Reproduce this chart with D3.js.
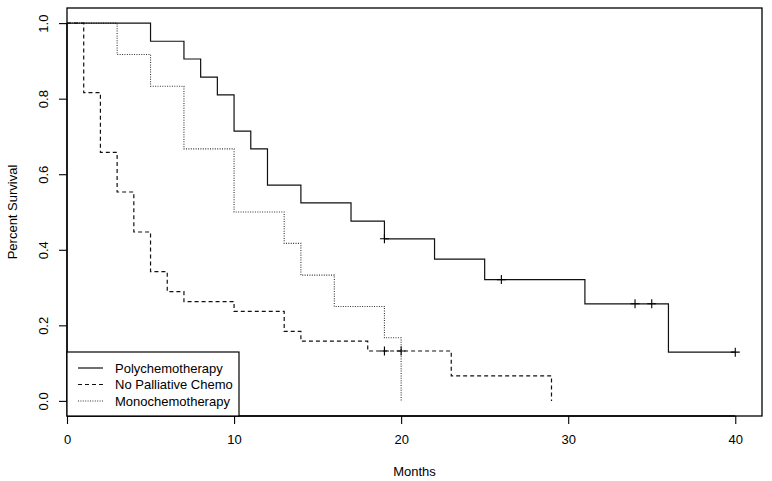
<!DOCTYPE html>
<html>
<head>
<meta charset="utf-8">
<script src="https://cdn.jsdelivr.net/npm/d3@7"></script>
<style>
  body { margin: 0; background: #fff; }
  svg { display: block; }
  text { font-family: "Liberation Sans", Arial, Helvetica, sans-serif; fill: #000; }
</style>
</head>
<body>
<svg id="chart" width="772" height="481"></svg>
<script>
// ---- data ----
const seriesNames = ["Polychemotherapy", "No Palliative Chemo", "Monochemotherapy"];

const polyTimes = [0, 5, 7, 8, 9, 10, 11, 12, 14, 17, 19, 22, 25, 31, 36, 40];
const polySurv  = [1, 0.952, 0.905, 0.857, 0.810, 0.714, 0.667, 0.571, 0.524, 0.476, 0.429, 0.375, 0.321, 0.257, 0.129, 0.129];
const polyCensor = [19, 26, 34, 35, 40];

const noChemoTimes = [0, 1, 2, 3, 4, 5, 6, 7, 10, 13, 14, 18, 23, 29];
const noChemoSurv  = [1, 0.816, 0.658, 0.553, 0.447, 0.342, 0.289, 0.263, 0.237, 0.184, 0.158, 0.132, 0.066, 0];
const noChemoCensor = [19, 20];

const monoTimes = [0, 3, 5, 7, 10, 13, 14, 16, 19, 20];
const monoSurv  = [1, 0.917, 0.833, 0.667, 0.5, 0.417, 0.333, 0.25, 0.167, 0];
const monoCensor = [];

const xTicks = [0, 10, 20, 30, 40];
const yTicks = [0, 0.2, 0.4, 0.6, 0.8, 1.0];

// ---- layout ----
const svg = d3.select("#chart");
const L = 67, R = 762, T = 8, B = 416;
const x = d3.scaleLinear().domain([0, 41.6]).range([L, R]);
const y = d3.scaleLinear().domain([-0.04, 1.04]).range([B, T]);

const styles = [
  { stroke: "#111", dash: null, width: 1.2 },
  { stroke: "#111", dash: "4,3", width: 1.2 },
  { stroke: "#333", dash: "1,1.4", width: 1.1 }
];

const series = [
  { times: polyTimes, surv: polySurv, censor: polyCensor },
  { times: noChemoTimes, surv: noChemoSurv, censor: noChemoCensor },
  { times: monoTimes, surv: monoSurv, censor: monoCensor }
];

const line = d3.line().x(d => x(d[0])).y(d => y(d[1])).curve(d3.curveStepAfter);

[2, 1, 0].forEach(i => {
  const s = series[i], st = styles[i];
  const pts = s.times.map((t, j) => [t, s.surv[j]]);
  svg.append("path")
    .attr("d", line(pts))
    .attr("fill", "none")
    .attr("stroke", st.stroke)
    .attr("stroke-width", st.width)
    .attr("stroke-dasharray", st.dash);
  s.censor.forEach(c => {
    let v = s.surv[0];
    s.times.forEach((t, j) => { if (t <= c) v = s.surv[j]; });
    const cx = x(c), cy = y(v);
    svg.append("path")
      .attr("d", `M${cx - 4.5},${cy}H${cx + 4.5}M${cx},${cy - 4.5}V${cy + 4.5}`)
      .attr("stroke", "#000").attr("stroke-width", 1.1).attr("fill", "none");
  });
});

// box
svg.append("rect").attr("x", L).attr("y", T).attr("width", R - L).attr("height", B - T)
  .attr("fill", "none").attr("stroke", "#000").attr("stroke-width", 1.3);

// x axis
const xAxis = d3.axisBottom(x).tickValues(xTicks).tickSize(8).tickPadding(11).tickFormat(d3.format("d"));
const gx = svg.append("g").attr("transform", `translate(0,${B})`).call(xAxis);
gx.select(".domain").attr("d", `M${x(0)},0H${x(40)}`).attr("stroke-width", 1.3);
gx.selectAll(".tick line").attr("stroke-width", 1.1);
gx.selectAll("text").attr("font-size", 13).style("font-family", "Liberation Sans, Arial, sans-serif");

// y axis
const yAxis = d3.axisLeft(y).tickValues(yTicks).tickSize(8).tickFormat(d3.format(".1f"));
const gy = svg.append("g").attr("transform", `translate(${L},0)`).call(yAxis);
gy.select(".domain").attr("d", `M0,${y(0)}V${y(1)}`).attr("stroke-width", 1.3);
gy.selectAll(".tick line").attr("stroke-width", 1.1);
gy.selectAll(".tick text")
  .attr("x", null).attr("dy", null)
  .attr("transform", "translate(-24,0) rotate(-90)")
  .attr("text-anchor", "middle")
  .attr("dy", "0.35em")
  .attr("font-size", 13)
  .style("font-family", "Liberation Sans, Arial, sans-serif");

// axis titles
svg.append("text").attr("x", (L + R) / 2).attr("y", 476).attr("text-anchor", "middle")
  .attr("font-size", 13).text("Months");
svg.append("text").attr("transform", `translate(17,${(T + B) / 2}) rotate(-90)`)
  .attr("text-anchor", "middle").attr("font-size", 13).text("Percent Survival");

// legend
const lg = svg.append("g");
lg.append("rect").attr("x", L).attr("y", 352).attr("width", 239 - L).attr("height", B - 352)
  .attr("fill", "#fff").attr("stroke", "#000").attr("stroke-width", 1.2);
const rowsY = [368, 384.5, 401];
seriesNames.forEach((name, i) => {
  lg.append("line").attr("x1", 78).attr("x2", 103).attr("y1", rowsY[i]).attr("y2", rowsY[i])
    .attr("stroke", styles[i].stroke).attr("stroke-width", styles[i].width)
    .attr("stroke-dasharray", styles[i].dash);
  lg.append("text").attr("x", 115).attr("y", rowsY[i]).attr("dy", "0.35em")
    .attr("font-size", 13).text(name);
});
</script>
</body>
</html>
